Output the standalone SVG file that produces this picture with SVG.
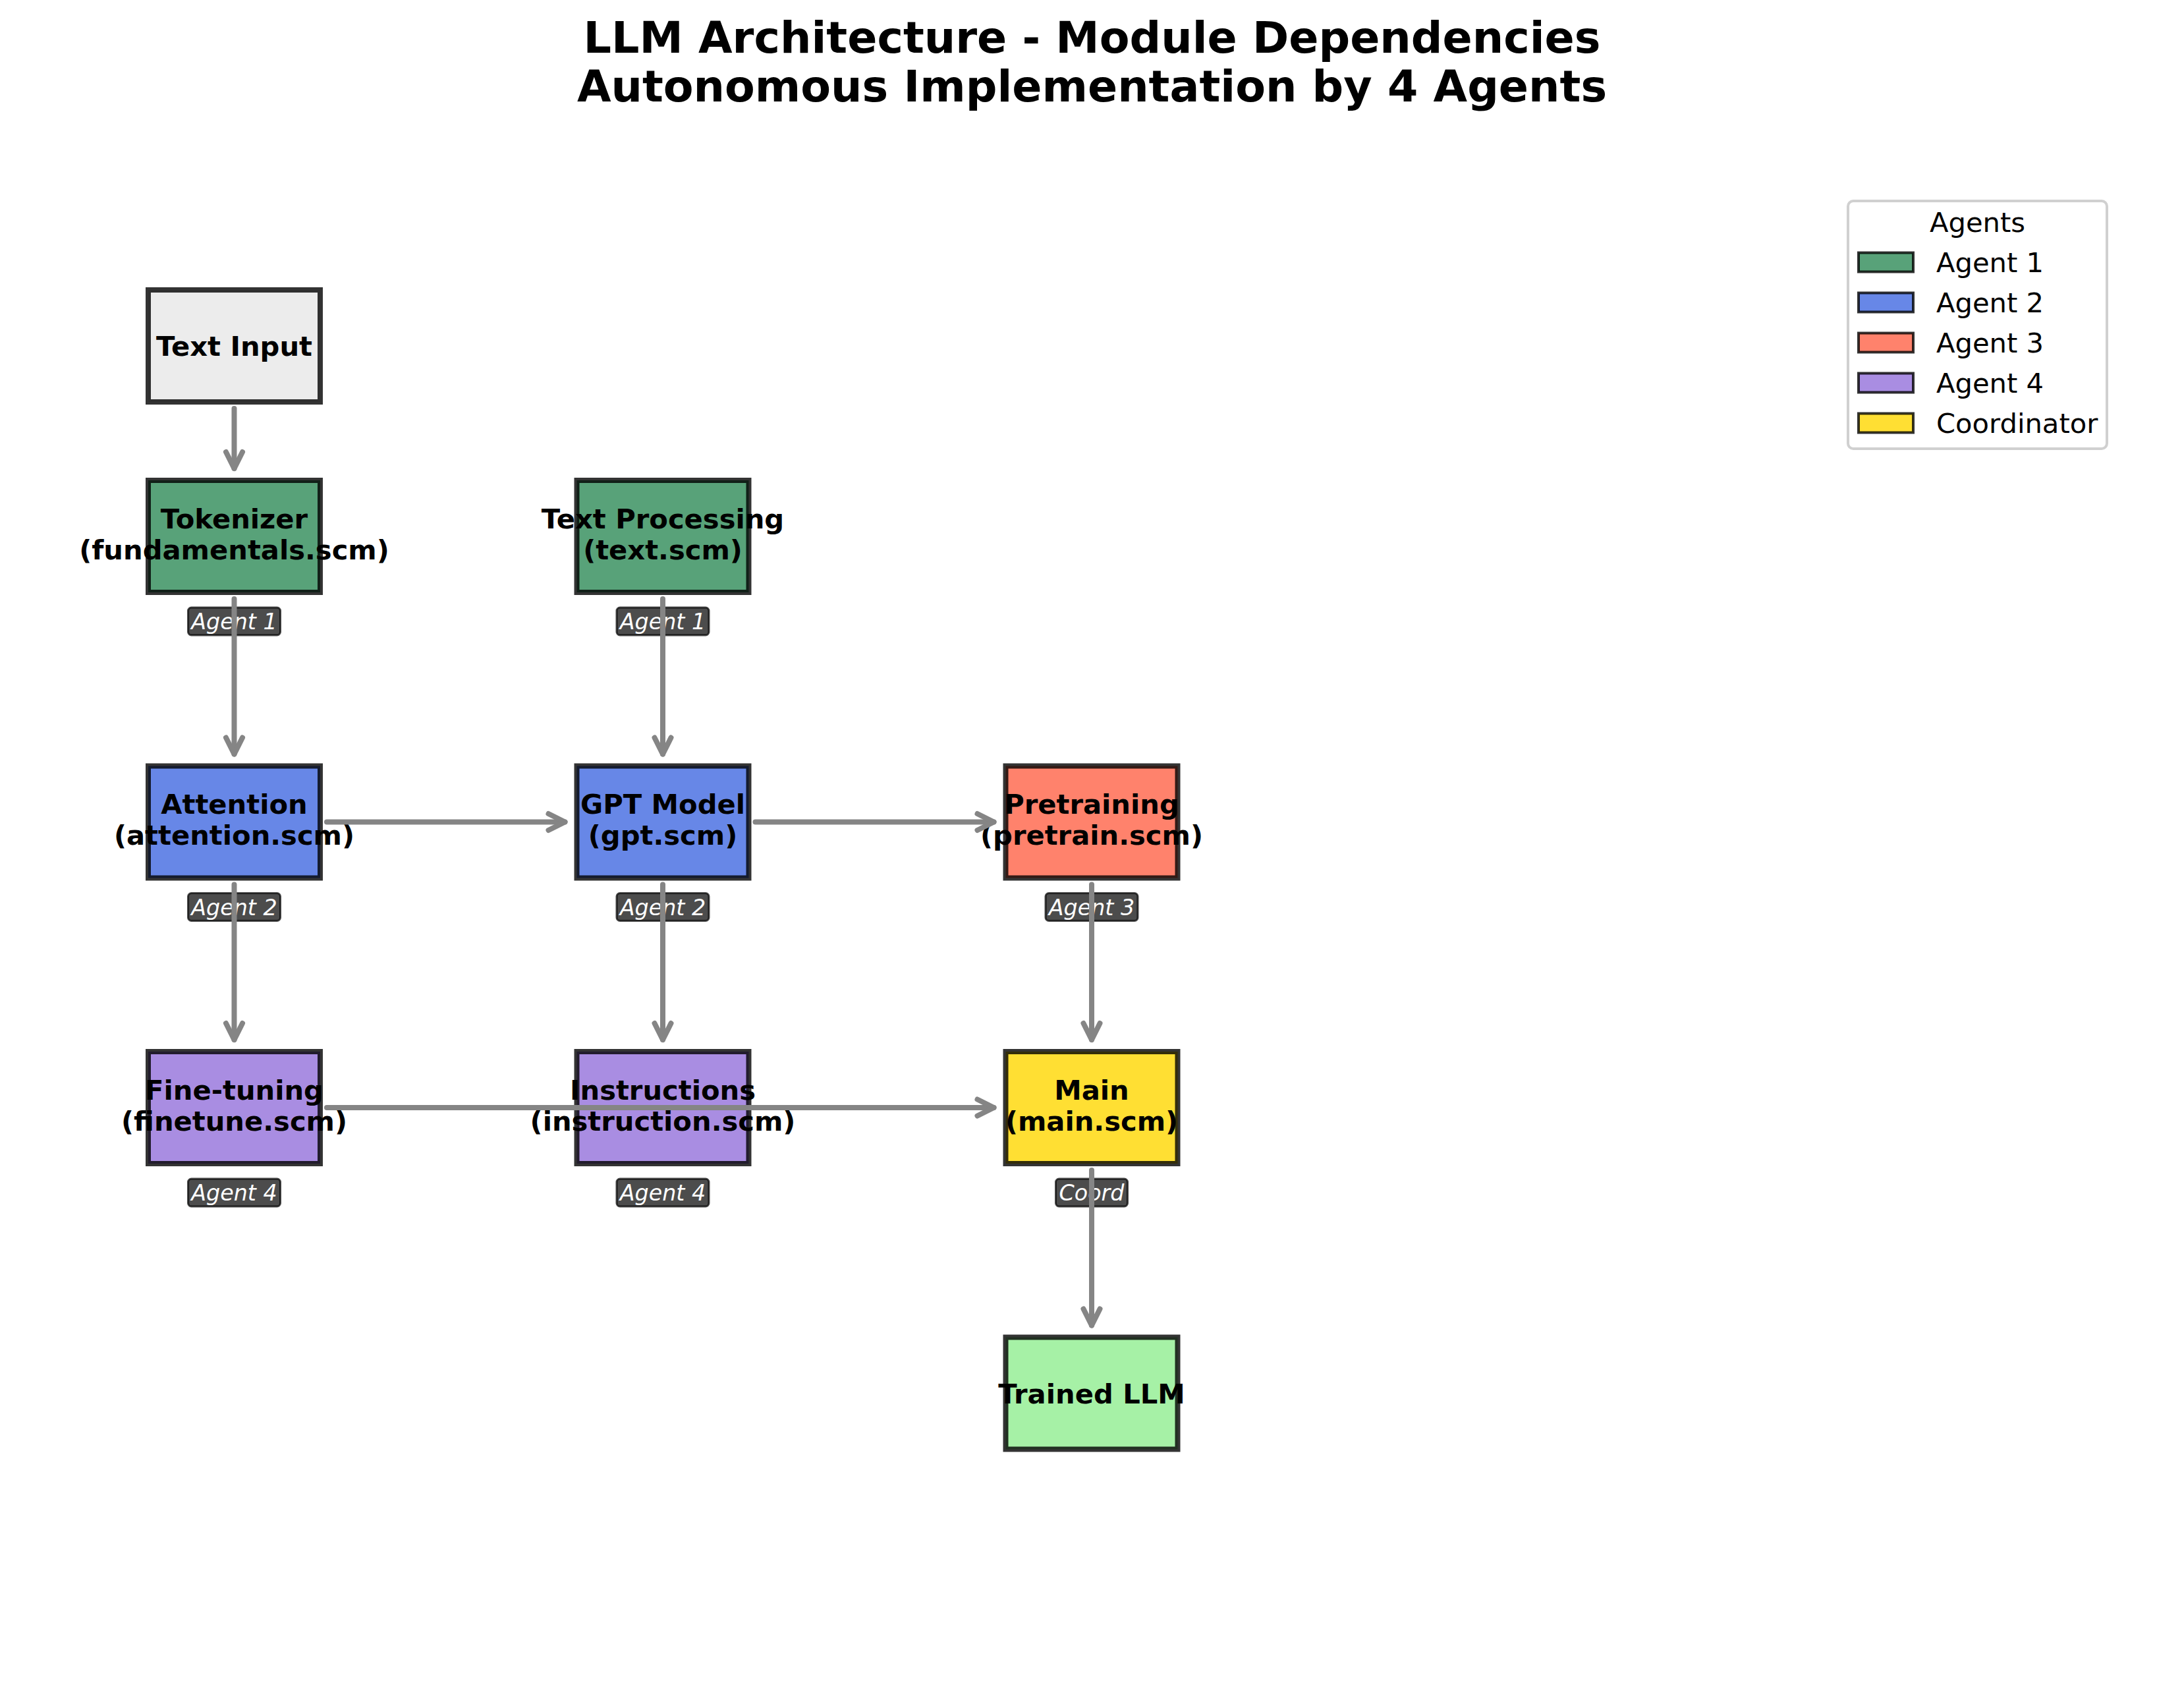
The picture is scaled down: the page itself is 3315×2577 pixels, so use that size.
<svg xmlns="http://www.w3.org/2000/svg" width="3315" height="2577" viewBox="0 0 3315 2577">
<defs>
<style>
.box{stroke:#000;stroke-opacity:.8;stroke-width:8}
.a1{fill:#58A279}.a2{fill:#6787E7}.a3{fill:#FF826C}.a4{fill:#A98DE2}.co{fill:#FFDF33}.in{fill:#ECECEC}.out{fill:#A6F1A6}
.lbl{font-family:'DejaVu Sans',sans-serif;font-weight:bold;font-size:41.67px;text-anchor:middle;fill:#000}
.badge{fill:#000;fill-opacity:.7;stroke:#000;stroke-opacity:.7;stroke-width:3}
.bt{font-family:'DejaVu Sans',sans-serif;font-style:italic;font-size:33.3px;fill:#fff;text-anchor:middle}
.conn{stroke:#858585;stroke-width:8;fill:none;stroke-linecap:round;marker-end:url(#ah)}
.title{font-family:'DejaVu Sans',sans-serif;font-weight:bold;font-size:66.67px;text-anchor:middle;fill:#000}
.leg{font-family:'DejaVu Sans',sans-serif;font-size:41.67px;fill:#000}
.lp{stroke:#000;stroke-opacity:.8;stroke-width:4}
</style>
<marker id="ah" markerUnits="userSpaceOnUse" orient="auto" refX="0" refY="0" markerWidth="60" markerHeight="60" viewBox="-30 -30 60 60" overflow="visible">
<path d="M-25,-12.5 L0,0 L-25,12.5" fill="none" stroke="#858585" stroke-width="8" stroke-linecap="round" stroke-linejoin="round"/>
</marker>
</defs>
<rect x="0" y="0" width="3315" height="2577" fill="#fff"/>
<g id="title">
<text class="title" x="1657.5" y="80">LLM Architecture - Module Dependencies</text>
<text class="title" x="1657.5" y="154">Autonomous Implementation by 4 Agents</text>
</g>

<g id="node-text-input">
<rect class="box in" x="225" y="440" width="261" height="170"/>
<text class="lbl" x="355.5" y="540">Text Input</text>
</g>
<g id="node-tokenizer">
<rect class="box a1" x="225" y="729" width="261" height="170"/>
<text class="lbl" x="355.5" y="801.5">Tokenizer</text>
<text class="lbl" x="355.5" y="848.5">(fundamentals.scm)</text>
<rect class="badge" x="285.5" y="922" width="140" height="42" rx="5"/>
<text class="bt" x="355.5" y="955">Agent 1</text>
</g>
<g id="node-text-processing">
<rect class="box a1" x="875.5" y="729" width="261" height="170"/>
<text class="lbl" x="1006" y="801.5">Text Processing</text>
<text class="lbl" x="1006" y="848.5">(text.scm)</text>
<rect class="badge" x="936" y="922" width="140" height="42" rx="5"/>
<text class="bt" x="1006" y="955">Agent 1</text>
</g>
<g id="node-attention">
<rect class="box a2" x="225" y="1162.5" width="261" height="170"/>
<text class="lbl" x="355.5" y="1235">Attention</text>
<text class="lbl" x="355.5" y="1282">(attention.scm)</text>
<rect class="badge" x="285.5" y="1355.5" width="140" height="42" rx="5"/>
<text class="bt" x="355.5" y="1388.5">Agent 2</text>
</g>
<g id="node-gpt">
<rect class="box a2" x="875.5" y="1162.5" width="261" height="170"/>
<text class="lbl" x="1006" y="1235">GPT Model</text>
<text class="lbl" x="1006" y="1282">(gpt.scm)</text>
<rect class="badge" x="936" y="1355.5" width="140" height="42" rx="5"/>
<text class="bt" x="1006" y="1388.5">Agent 2</text>
</g>
<g id="node-pretraining">
<rect class="box a3" x="1526.5" y="1162.5" width="261" height="170"/>
<text class="lbl" x="1657" y="1235">Pretraining</text>
<text class="lbl" x="1657" y="1282">(pretrain.scm)</text>
<rect class="badge" x="1587" y="1355.5" width="140" height="42" rx="5"/>
<text class="bt" x="1657" y="1388.5">Agent 3</text>
</g>
<g id="node-finetuning">
<rect class="box a4" x="225" y="1596" width="261" height="170"/>
<text class="lbl" x="355.5" y="1668.5">Fine-tuning</text>
<text class="lbl" x="355.5" y="1715.5">(finetune.scm)</text>
<rect class="badge" x="285.5" y="1789" width="140" height="42" rx="5"/>
<text class="bt" x="355.5" y="1822">Agent 4</text>
</g>
<g id="node-instructions">
<rect class="box a4" x="875.5" y="1596" width="261" height="170"/>
<text class="lbl" x="1006" y="1668.5">Instructions</text>
<text class="lbl" x="1006" y="1715.5">(instruction.scm)</text>
<rect class="badge" x="936" y="1789" width="140" height="42" rx="5"/>
<text class="bt" x="1006" y="1822">Agent 4</text>
</g>
<g id="node-main">
<rect class="box co" x="1526.5" y="1596" width="261" height="170"/>
<text class="lbl" x="1657" y="1668.5">Main</text>
<text class="lbl" x="1657" y="1715.5">(main.scm)</text>
<rect class="badge" x="1602.5" y="1789" width="109" height="42" rx="5"/>
<text class="bt" x="1657" y="1822">Coord</text>
</g>
<g id="node-trained">
<rect class="box out" x="1526.5" y="2029.5" width="261" height="170"/>
<text class="lbl" x="1657" y="2129.5">Trained LLM</text>
</g>

<g id="connectors">
<line class="conn" x1="355.5" y1="620" x2="355.5" y2="711"/>
<line class="conn" x1="355.5" y1="909" x2="355.5" y2="1144.5"/>
<line class="conn" x1="1006" y1="909" x2="1006" y2="1144.5"/>
<line class="conn" x1="496" y1="1247.5" x2="857.5" y2="1247.5"/>
<line class="conn" x1="1146.5" y1="1247.5" x2="1508.5" y2="1247.5"/>
<line class="conn" x1="355.5" y1="1342.5" x2="355.5" y2="1578"/>
<line class="conn" x1="1006" y1="1342.5" x2="1006" y2="1578"/>
<line class="conn" x1="1657" y1="1342.5" x2="1657" y2="1578"/>
<line class="conn" x1="496" y1="1681" x2="1508.5" y2="1681"/>
<line class="conn" x1="1657" y1="1776" x2="1657" y2="2011.5"/>
</g>

<g id="legend">
<rect x="2805" y="305" width="393" height="376" rx="8" fill="#fff" fill-opacity=".8" stroke="#d0d0d0" stroke-width="4"/>
<text class="leg" x="3001.5" y="352" text-anchor="middle">Agents</text>
<rect class="lp a1" x="2821" y="383.5" width="83" height="29"/>
<text class="leg" x="2939" y="413">Agent 1</text>
<rect class="lp a2" x="2821" y="444.5" width="83" height="29"/>
<text class="leg" x="2939" y="474">Agent 2</text>
<rect class="lp a3" x="2821" y="505.5" width="83" height="29"/>
<text class="leg" x="2939" y="535">Agent 3</text>
<rect class="lp a4" x="2821" y="566.5" width="83" height="29"/>
<text class="leg" x="2939" y="596">Agent 4</text>
<rect class="lp co" x="2821" y="627.5" width="83" height="29"/>
<text class="leg" x="2939" y="657">Coordinator</text>
</g>
</svg>
